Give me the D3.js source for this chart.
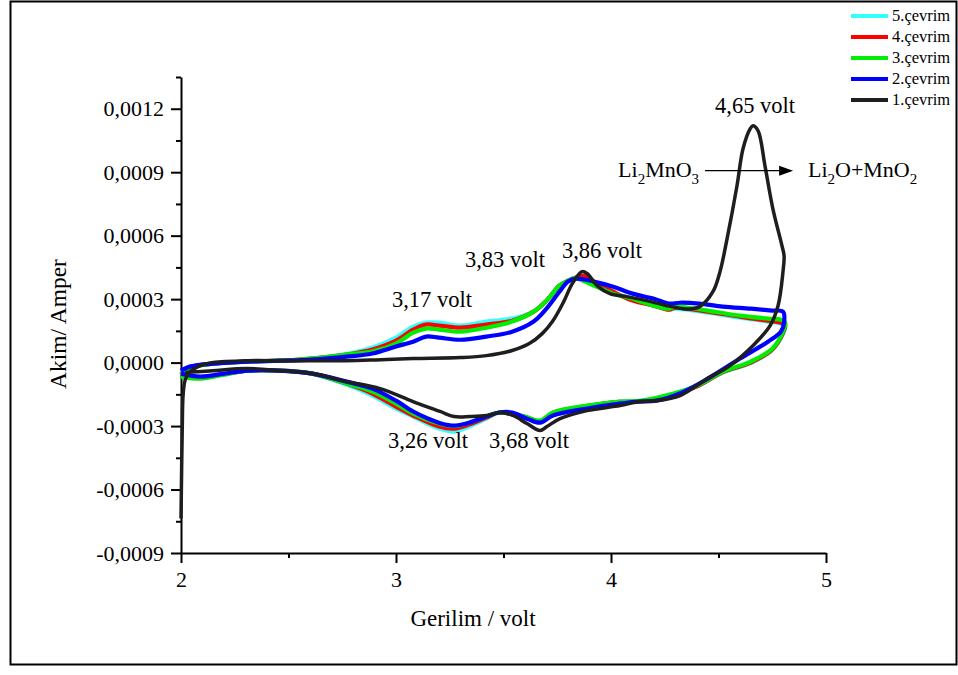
<!DOCTYPE html>
<html>
<head>
<meta charset="utf-8">
<script src="https://cdn.jsdelivr.net/npm/d3@7"></script>
<style>
  body { margin: 0; background: #fff; }
  svg text { font-family: "Liberation Serif", "Times New Roman", serif; fill: #000; }
</style>
</head>
<body>
<div id="chart"></div>
<script>
// cyclic voltammetry, [volt, ampere], anodic sweep then cathodic sweep
const cycle1 = [
  [2.000,-7.37e-4],[2.003,-5.0e-4],[2.006,-3.0e-4],[2.010,-1.5e-4],[2.020,-0.8e-4],[2.040,-0.45e-4],
  [2.09,-0.14e-4],[2.15,0.0],[2.31,0.09e-4],[2.46,0.09e-4],[2.61,0.09e-4],[2.77,0.09e-4],
  [2.93,0.14e-4],[3.08,0.19e-4],[3.30,0.24e-4],[3.42,0.33e-4],[3.54,0.57e-4],[3.62,0.90e-4],
  [3.68,1.37e-4],[3.73,1.98e-4],[3.78,2.88e-4],[3.82,3.73e-4],[3.865,4.30e-4],[3.89,4.20e-4],
  [3.935,3.64e-4],[3.995,3.26e-4],[4.074,3.12e-4],[4.167,2.93e-4],[4.26,2.69e-4],[4.335,2.55e-4],
  [4.38,2.55e-4],[4.414,2.65e-4],[4.474,3.35e-4],[4.507,4.30e-4],[4.54,5.86e-4],[4.586,8.36e-4],
  [4.614,10.11e-4],[4.647,11.05e-4],[4.66,11.2e-4],[4.684,10.96e-4],[4.716,9.31e-4],[4.753,7.27e-4],
  [4.795,5.53e-4],[4.805,5.05e-4],
  [4.80,4.30e-4],[4.777,2.69e-4],[4.74,1.75e-4],[4.66,0.80e-4],[4.553,-0.14e-4],[4.447,-0.76e-4],
  [4.321,-1.56e-4],[4.214,-1.80e-4],[4.135,-1.84e-4],[4.042,-2.03e-4],[3.888,-2.27e-4],[3.763,-2.65e-4],
  [3.702,-3.02e-4],[3.67,-3.21e-4],[3.609,-2.88e-4],[3.544,-2.50e-4],[3.484,-2.36e-4],[3.423,-2.50e-4],
  [3.344,-2.55e-4],[3.27,-2.55e-4],[3.205,-2.31e-4],[3.079,-1.84e-4],[2.926,-1.23e-4],[2.772,-0.90e-4],
  [2.614,-0.52e-4],[2.46,-0.38e-4],[2.307,-0.28e-4],[2.149,-0.38e-4],[2.074,-0.43e-4],[2.02,-0.47e-4]
];
const cycle2 = [
  [2.00,-0.38e-4],[2.04,-0.19e-4],[2.15,-0.05e-4],[2.31,0.05e-4],[2.46,0.09e-4],[2.61,0.14e-4],
  [2.77,0.28e-4],[2.89,0.43e-4],[3.00,0.76e-4],[3.08,0.99e-4],[3.14,1.23e-4],[3.20,1.18e-4],
  [3.30,1.08e-4],[3.42,1.23e-4],[3.54,1.46e-4],[3.64,1.94e-4],[3.70,2.55e-4],[3.76,3.35e-4],
  [3.80,3.83e-4],[3.84,3.97e-4],[3.92,3.83e-4],[4.01,3.59e-4],[4.10,3.26e-4],[4.20,3.02e-4],
  [4.27,2.79e-4],[4.32,2.83e-4],[4.41,2.79e-4],[4.52,2.65e-4],[4.65,2.55e-4],[4.75,2.46e-4],[4.80,2.41e-4],
  [4.805,1.9e-4],[4.79,1.46e-4],[4.73,0.99e-4],[4.60,0.19e-4],[4.45,-0.76e-4],[4.32,-1.46e-4],
  [4.21,-1.80e-4],[4.13,-1.84e-4],[4.04,-1.94e-4],[3.89,-2.17e-4],[3.73,-2.50e-4],[3.67,-2.84e-4],
  [3.61,-2.65e-4],[3.54,-2.36e-4],[3.48,-2.36e-4],[3.42,-2.55e-4],[3.34,-2.84e-4],[3.27,-2.98e-4],
  [3.21,-2.88e-4],[3.15,-2.65e-4],[3.08,-2.31e-4],[3.00,-1.80e-4],[2.89,-1.23e-4],[2.77,-0.90e-4],
  [2.61,-0.52e-4],[2.46,-0.38e-4],[2.31,-0.38e-4],[2.20,-0.52e-4],[2.09,-0.66e-4],[2.00,-0.52e-4]
];
const cycle3 = [
  [2.00,-0.61e-4],[2.04,-0.28e-4],[2.15,-0.05e-4],[2.31,0.05e-4],[2.46,0.09e-4],[2.61,0.19e-4],
  [2.77,0.38e-4],[2.89,0.52e-4],[3.00,0.90e-4],[3.08,1.42e-4],[3.14,1.61e-4],[3.20,1.56e-4],
  [3.30,1.46e-4],[3.42,1.65e-4],[3.54,1.94e-4],[3.64,2.41e-4],[3.70,2.93e-4],[3.76,3.64e-4],
  [3.80,3.87e-4],[3.83,4.0e-4],[3.92,3.64e-4],[4.01,3.26e-4],[4.10,3.02e-4],[4.20,2.69e-4],
  [4.27,2.55e-4],[4.30,2.65e-4],[4.45,2.46e-4],[4.60,2.22e-4],[4.73,2.08e-4],[4.79,2.03e-4],[4.81,1.9e-4],
  [4.80,1.46e-4],[4.75,0.66e-4],[4.65,0.05e-4],[4.52,-0.43e-4],[4.40,-1.09e-4],[4.29,-1.46e-4],
  [4.14,-1.80e-4],[4.04,-1.84e-4],[3.89,-2.03e-4],[3.73,-2.36e-4],[3.67,-2.74e-4],[3.60,-2.55e-4],
  [3.48,-2.36e-4],[3.42,-2.55e-4],[3.34,-2.84e-4],[3.27,-3.00e-4],[3.20,-2.88e-4],[3.08,-2.41e-4],
  [3.00,-1.94e-4],[2.89,-1.37e-4],[2.77,-0.99e-4],[2.61,-0.52e-4],[2.46,-0.38e-4],[2.31,-0.38e-4],
  [2.20,-0.57e-4],[2.09,-0.76e-4],[2.00,-0.66e-4]
];
const cycle4 = [
  [2.00,-0.57e-4],[2.04,-0.24e-4],[2.15,-0.05e-4],[2.31,0.05e-4],[2.46,0.09e-4],[2.61,0.19e-4],
  [2.77,0.38e-4],[2.89,0.62e-4],[3.00,1.04e-4],[3.08,1.56e-4],[3.14,1.80e-4],[3.20,1.75e-4],
  [3.30,1.65e-4],[3.42,1.80e-4],[3.54,1.98e-4],[3.64,2.41e-4],[3.70,2.93e-4],[3.76,3.64e-4],
  [3.80,3.87e-4],[3.83,4.0e-4],[3.87,4.1e-4],[3.92,3.83e-4],[4.01,3.35e-4],[4.10,2.93e-4],
  [4.20,2.69e-4],[4.27,2.50e-4],[4.30,2.60e-4],[4.45,2.41e-4],[4.60,2.17e-4],[4.73,1.98e-4],
  [4.79,1.89e-4],[4.81,1.8e-4],
  [4.80,1.40e-4],[4.75,0.62e-4],[4.65,0.0],[4.52,-0.45e-4],[4.40,-1.12e-4],[4.29,-1.50e-4],
  [4.14,-1.84e-4],[4.04,-1.86e-4],[3.89,-2.06e-4],[3.73,-2.38e-4],[3.67,-2.79e-4],[3.60,-2.60e-4],
  [3.48,-2.36e-4],[3.42,-2.60e-4],[3.34,-2.93e-4],[3.27,-3.12e-4],[3.20,-3.02e-4],[3.08,-2.50e-4],
  [3.00,-2.08e-4],[2.89,-1.46e-4],[2.77,-0.99e-4],[2.61,-0.52e-4],[2.46,-0.38e-4],[2.31,-0.38e-4],
  [2.20,-0.55e-4],[2.09,-0.73e-4],[2.00,-0.61e-4]
];
const cycle5 = [
  [2.00,-0.52e-4],[2.04,-0.22e-4],[2.15,-0.05e-4],[2.31,0.05e-4],[2.46,0.09e-4],[2.61,0.19e-4],
  [2.77,0.40e-4],[2.89,0.71e-4],[3.00,1.18e-4],[3.08,1.70e-4],[3.14,1.89e-4],[3.20,1.89e-4],
  [3.30,1.75e-4],[3.42,1.94e-4],[3.54,2.08e-4],[3.64,2.41e-4],[3.70,2.93e-4],[3.76,3.64e-4],
  [3.80,3.87e-4],[3.83,3.97e-4],[3.92,3.73e-4],[4.01,3.30e-4],[4.10,2.98e-4],[4.20,2.69e-4],
  [4.27,2.50e-4],[4.30,2.55e-4],[4.45,2.36e-4],[4.60,2.12e-4],[4.73,1.94e-4],[4.79,1.84e-4],[4.81,1.7e-4],
  [4.80,1.35e-4],[4.75,0.60e-4],[4.65,-0.02e-4],[4.52,-0.47e-4],[4.40,-1.12e-4],[4.29,-1.50e-4],
  [4.14,-1.84e-4],[4.04,-1.86e-4],[3.89,-2.06e-4],[3.73,-2.38e-4],[3.67,-2.76e-4],[3.60,-2.60e-4],
  [3.48,-2.36e-4],[3.42,-2.65e-4],[3.34,-3.02e-4],[3.27,-3.26e-4],[3.20,-3.12e-4],[3.08,-2.55e-4],
  [3.00,-2.17e-4],[2.89,-1.56e-4],[2.77,-1.04e-4],[2.61,-0.52e-4],[2.46,-0.38e-4],[2.31,-0.38e-4],
  [2.20,-0.55e-4],[2.09,-0.71e-4],[2.00,-0.57e-4]
];

const seriesNames = ["5.çevrim", "4.çevrim", "3.çevrim", "2.çevrim", "1.çevrim"];
const seriesData = [cycle5, cycle4, cycle3, cycle2, cycle1];
const seriesColors = ["#33ffff", "#ff0000", "#00ee00", "#0000ff", "#1e1e1e"];

const xTicks = [2, 3, 4, 5];
const xMinorTicks = [2.5, 3.5, 4.5];
const yTicks = [-0.0009, -0.0006, -0.0003, 0, 0.0003, 0.0006, 0.0009, 0.0012];
const yMinorTicks = [-0.00075, -0.00045, -0.00015, 0.00015, 0.00045, 0.00075, 0.00105, 0.00135];

// peak labels [text, volt, ampere] (text anchor point)
const peakLabels = [
  ["3,17 volt", 3.167, 2.65e-4],
  ["3,83 volt", 3.507, 4.54e-4],
  ["3,86 volt", 3.958, 4.96e-4],
  ["4,65 volt", 4.67, 11.81e-4],
  ["3,26 volt", 3.149, -4.06e-4],
  ["3,68 volt", 3.619, -4.02e-4]
];

const width = 958, height = 675;
const margin = { top: 77, right: 132, bottom: 122, left: 181 };

const svg = d3.select("#chart").append("svg")
  .attr("width", width)
  .attr("height", height);

// outer frame
svg.append("rect")
  .attr("x", 10.5).attr("y", 1.5)
  .attr("width", 946).attr("height", 663)
  .attr("fill", "none").attr("stroke", "#000").attr("stroke-width", 2);

const x = d3.scaleLinear().domain([2, 5]).range([margin.left, width - margin.right]);
const y = d3.scaleLinear().domain([-0.0009, 0.00135]).range([height - margin.bottom, margin.top]);

const locale = d3.formatLocale({ decimal: ",", thousands: ".", grouping: [3], currency: ["", ""], minus: "-" });
const yFmt = locale.format(".4f");

// axes
const gx = svg.append("g").attr("transform", "translate(0," + y(-0.0009) + ")");
gx.call(d3.axisBottom(x).tickValues(xTicks).tickSize(10).tickSizeOuter(0).tickPadding(8).tickFormat(d3.format("d")));
gx.append("g").call(d3.axisBottom(x).tickValues(xMinorTicks).tickSize(5).tickFormat(""))
  .select(".domain").remove();

const gy = svg.append("g").attr("transform", "translate(" + x(2) + ",0)");
gy.call(d3.axisLeft(y).tickValues(yTicks).tickSize(10).tickSizeOuter(0).tickPadding(7).tickFormat(yFmt));
gy.append("g").call(d3.axisLeft(y).tickValues(yMinorTicks).tickSize(5).tickFormat(""))
  .select(".domain").remove();

svg.selectAll(".domain, .tick line").attr("stroke", "#000").attr("stroke-width", 2);
svg.selectAll(".tick text").style("font-size", "22px").style("font-family", "Liberation Serif, serif");

// axis titles
svg.append("text")
  .attr("x", 473).attr("y", 626)
  .attr("text-anchor", "middle")
  .style("font-size", "23px")
  .text("Gerilim / volt");

svg.append("text")
  .attr("transform", "translate(66,324) rotate(-90)")
  .attr("text-anchor", "middle")
  .style("font-size", "23.5px")
  .text("Akim/ Amper");

// curves
const line = d3.line()
  .x(d => x(d[0]))
  .y(d => y(d[1]))
  .curve(d3.curveCatmullRom.alpha(0.5));

svg.append("g").selectAll("path")
  .data(seriesData)
  .join("path")
  .attr("d", line)
  .attr("fill", "none")
  .attr("stroke", (d, i) => seriesColors[i])
  .attr("stroke-width", (d, i) => i === 4 ? 3.5 : 4.2)
  .attr("stroke-linejoin", "round");

// peak labels
svg.append("g").selectAll("text")
  .data(peakLabels)
  .join("text")
  .attr("x", d => x(d[1]))
  .attr("y", d => y(d[2]))
  .attr("text-anchor", "middle")
  .style("font-size", "22.5px")
  .text(d => d[0]);

// Li2MnO3 -> Li2O + MnO2
const reaction = svg.append("g").style("font-size", "22px");
const left = reaction.append("text").attr("x", x(4.033)).attr("y", y(8.79e-4));
left.append("tspan").text("Li");
left.append("tspan").attr("dy", 7).style("font-size", "15px").text("2");
left.append("tspan").attr("dy", -7).text("MnO");
left.append("tspan").attr("dy", 7).style("font-size", "15px").text("3");

const right = reaction.append("text").attr("x", x(4.916)).attr("y", y(8.79e-4));
right.append("tspan").text("Li");
right.append("tspan").attr("dy", 7).style("font-size", "15px").text("2");
right.append("tspan").attr("dy", -7).text("O+MnO");
right.append("tspan").attr("dy", 7).style("font-size", "15px").text("2");

const ay = y(9.07e-4);
reaction.append("line")
  .attr("x1", x(4.437)).attr("x2", x(4.80))
  .attr("y1", ay).attr("y2", ay)
  .attr("stroke", "#000").attr("stroke-width", 1.3);
reaction.append("path")
  .attr("d", "M" + x(4.847) + "," + ay + "l-14,-5l0,10z")
  .attr("fill", "#000");

// legend
const legend = svg.append("g").attr("transform", "translate(851,16)");
const items = legend.selectAll("g")
  .data(seriesNames)
  .join("g")
  .attr("transform", (d, i) => "translate(0," + (i * 21) + ")");
items.append("line")
  .attr("x1", 0).attr("x2", 37)
  .attr("stroke", (d, i) => seriesColors[i])
  .attr("stroke-width", 4);
items.append("text")
  .attr("x", 41).attr("y", 5)
  .style("font-size", "16.5px")
  .text(d => d);
</script>
</body>
</html>
